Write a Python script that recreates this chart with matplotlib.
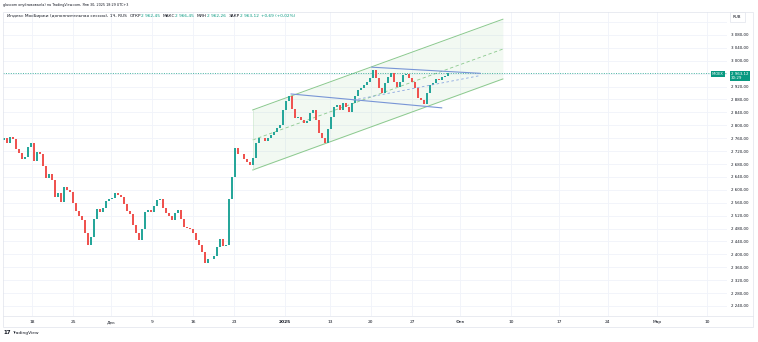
import numpy as np
import matplotlib.pyplot as plt
from matplotlib.patches import Rectangle
from matplotlib.lines import Line2D

# hourly IMOEX closes (roughly every 3 px)
closes = [2761, 2745, 2764, 2758, 2728, 2714, 2696, 2702, 2733, 2745,
          2690, 2717, 2710, 2675, 2636, 2650, 2630, 2578, 2590, 2562,
          2610, 2600, 2593, 2559, 2535, 2520, 2506, 2466, 2429, 2455,
          2510, 2540, 2530, 2545, 2565, 2572, 2575, 2590, 2585, 2578,
          2555, 2535, 2525, 2490, 2466, 2444, 2480, 2530, 2537, 2530,
          2550, 2568, 2570, 2545, 2528, 2520, 2508, 2528, 2537, 2510,
          2485, 2482, 2478, 2466, 2445, 2428, 2407, 2373, 2385, 2385,
          2395, 2423, 2448, 2425, 2428, 2570, 2640, 2730, 2710, 2712,
          2695, 2686, 2677, 2700, 2745, 2762, 2760, 2752, 2762, 2770,
          2778, 2792, 2800, 2847, 2875, 2891, 2850, 2823, 2826, 2815,
          2808, 2812, 2838, 2847, 2816, 2776, 2761, 2745, 2790, 2826,
          2857, 2863, 2847, 2869, 2857, 2841, 2870, 2890, 2910, 2916,
          2925, 2935, 2947, 2972, 2945, 2915, 2900, 2931, 2950, 2962,
          2935, 2919, 2935, 2955, 2960, 2945, 2934, 2916, 2885, 2878,
          2865, 2900, 2925, 2931, 2944, 2940, 2950, 2952, 2963.12]
first_open = 2755
last_price = 2963.12

tick_pos = [9.3, 23, 35.7, 49.3, 63, 76.7, 93.7, 108.7, 122.3, 136,
            152, 169, 185, 201.3, 217.7, 234.3]
tick_labels = ['18', '25', 'Дек', '9', '16', '23', '2025', '13', '20', '27',
               'Фев', '10', '17', '24', 'Мар', '10']
price_ticks = list(range(2240, 3081, 40))

# drawings: parallel channel and the wedge lines
channel_x = [82.9, 166.3]
channel_upper = [2847.5, 3128.7]
channel_lower = [2661.5, 2943.6]
wedge_top_x = [122.6, 158.7]
wedge_top = [2980, 2961]
wedge_bot_x = [95.7, 145.9]
wedge_bot = [2897, 2854]
wedge_mid_x = [116.4, 158.7]
wedge_mid = [2878, 2954]

up_col = '#26a69a'
down_col = '#ef5350'
text_col = '#131722'
teal = '#089981'
grid_col = '#f0f3fa'

W, H = 758, 342
fig = plt.figure(figsize=(W / 100, H / 100), dpi=100)
ax = fig.add_axes([3 / W, 26 / H, 724 / W, 304 / H])

closes = np.array(closes)
opens = np.concatenate([[first_open], closes[:-1]])
x = np.arange(len(closes))
lo = np.minimum(opens, closes)
hgt = np.maximum(np.abs(closes - opens), 1.5)
cols = [up_col if c >= o else down_col for o, c in zip(opens, closes)]
ax.bar(x, hgt, bottom=lo, width=0.5, color=cols, linewidth=0, zorder=3)

# channel
mid = [(a + b) / 2 for a, b in zip(channel_upper, channel_lower)]
ax.fill_between(channel_x, channel_lower, channel_upper, color='#4caf50', alpha=0.07, linewidth=0, zorder=1)
ax.plot(channel_x, channel_upper, color='#8bc98e', lw=0.7, zorder=2)
ax.plot(channel_x, channel_lower, color='#8bc98e', lw=0.7, zorder=2)
ax.plot(channel_x, mid, color='#8bc98e', lw=0.6, ls=(0, (4, 3)), zorder=2)
ax.plot([channel_x[0], channel_x[0]], [channel_lower[0], channel_upper[0]], color='#c8e6c9', lw=0.4, zorder=2)

# wedge
ax.plot(wedge_top_x, wedge_top, color='#7895d6', lw=0.8, zorder=4)
ax.plot(wedge_bot_x, wedge_bot, color='#7895d6', lw=0.8, zorder=4)
ax.plot(wedge_mid_x, wedge_mid, color='#8aa6e0', lw=0.6, ls=(0, (3, 3)), zorder=4)

ax.axhline(last_price, color=teal, lw=0.5, ls=(0, (1.5, 2)), zorder=2)

ax.set_xlim(-0.33, 241)
ax.set_ylim(2209, 3151)
ax.set_xticks(tick_pos)
ax.set_xticklabels(tick_labels)
for lab in ax.get_xticklabels():
    if lab.get_text() == '2025':
        lab.set_fontweight('bold')
ax.set_yticks(price_ticks)
# the 2 960 label sits under the last-price badge, as in the original
ax.set_yticklabels(['' if v == 2960 else f"{v:,.2f}".replace(',', ' ').replace('.', ',')
                    for v in price_ticks])
ax.yaxis.tick_right()
ax.axhline(3120, color=grid_col, lw=0.6, zorder=0)
ax.grid(color=grid_col, lw=0.6, zorder=0)
ax.set_axisbelow(True)
ax.tick_params(axis='x', length=0, labelsize=3.2, labelcolor=text_col, pad=3)
ax.tick_params(axis='y', length=0, labelsize=2.9, labelcolor=text_col, pad=3)
for s in ax.spines.values():
    s.set_visible(False)


def px(xp, yp):
    return xp / W, 1 - yp / H


# pane border and time-axis strip
fig.patches.append(Rectangle(px(3, 327), 750 / W, 315 / H, transform=fig.transFigure,
                             fill=False, ec='#e0e3eb', lw=0.5))
fig.lines.append(Line2D([3 / W, 753 / W], [1 - 316 / H] * 2, transform=fig.transFigure,
                        color='#e0e3eb', lw=0.5))

fig.text(*px(3, 5), 'glavcom опубликовал(а) на TradingView.com, Янв 30, 2025 18:29 UTC+3',
         fontsize=2.45, color=text_col, va='center')

pieces = [('Индекс МосБиржи (дополнительная сессия), 1Ч, RUS  ', text_col),
          ('ОТКР', text_col), ('2 962,45  ', teal),
          ('МАКС', text_col), ('2 966,45  ', teal),
          ('МИН', text_col), ('2 962,26  ', teal),
          ('ЗАКР', text_col), ('2 963,12  ', teal),
          ('+0,69 (+0,02%)', teal)]
renderer = fig.canvas.get_renderer()
cx = 7
for txt, c in pieces:
    t = fig.text(*px(cx, 16), txt, fontsize=3.1, color=c, va='center')
    bb = t.get_window_extent(renderer)
    cx += bb.width

# price labels on the right
fig.text(*px(733, 17), 'RUB', fontsize=2.9, color=text_col, va='center',
         bbox=dict(boxstyle='square,pad=0.8', fc='white', ec='#e0e3eb', lw=0.5))
fig.text(*px(712, 74), 'IMOEX', fontsize=2.6, color='white', va='center',
         bbox=dict(boxstyle='square,pad=0.3', fc=teal, ec='none'))
fig.text(*px(731, 76), '2 963,12\n30:29', fontsize=2.9, color='white', va='center',
         linespacing=1.1, bbox=dict(boxstyle='square,pad=0.3', fc=teal, ec='none'))

fig.text(*px(3, 333), '17', fontsize=4, fontweight='bold', color=text_col, va='center')
fig.text(*px(12, 333), 'TradingView', fontsize=3.2, color=text_col, va='center')

fig.savefig('out.png', dpi=100)
